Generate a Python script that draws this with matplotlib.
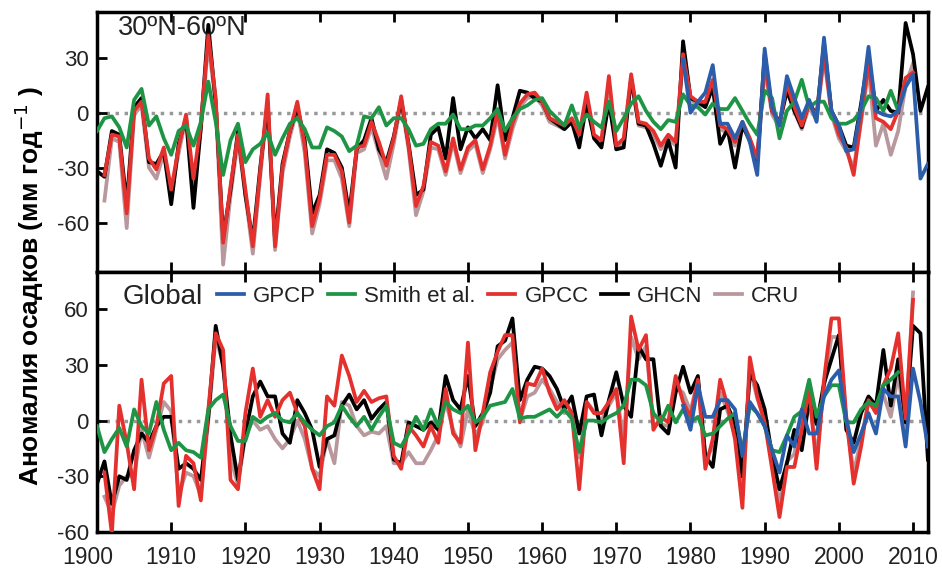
import numpy as np
import matplotlib
matplotlib.use("Agg")
import matplotlib.pyplot as plt

plt.rcParams['font.family'] = ['Liberation Sans', 'DejaVu Sans']
plt.rcParams['axes.unicode_minus'] = False

years = np.arange(1900, 2013)

# 30N-60N panel (mm/yr anomalies), each list starts at the given year
top_ghcn_start = 1900
top_ghcn = [-32, -35, -10, -12, -50, 3, 8, -27, -28, -21,
            -50, -17, -3, -52, -8, 48, 5, -68, -42, -10,
            -45, -70, -30, 5, -70, -28, -10, 3, -15, -55,
            -45, -20, -22, -30, -55, -20, -15, -3, -20, -27,
            -13, 7, -17, -45, -42, -12, -8, -25, 8, -20,
            -8, -14, -9, -15, 15, -15, -3, 12, 11, 8,
            6, -3, -6, -9, -5, -19, 5, -14, -19, 6,
            -20, -19, 19, -6, -7, -17, -29, -15, -30, 39,
            8, 6, 3, 14, -17, -9, -30, -7, -15, -27,
            32, 1, -5, 12, 1, -8, 6, -2, 38, 1,
            -7, -18, -19, 5, 31, 1, 7, 1, 0, 49,
            32, 1, 14]
top_gpcc_start = 1901
top_gpcc = [-34, -12, -13, -55, 1, 6, -25, -31, -19,
            -42, -19, -1, -36, -6, 42, 8, -71, -40, -12,
            -42, -73, -32, 10, -73, -30, -10, 6, -18, -62,
            -47, -23, -23, -32, -60, -19, -18, -5, -16, -29,
            -14, 9, -18, -51, -40, -16, -18, -32, -14, -31,
            -19, -15, -31, -18, 1, -23, -6, 5, 10, 11,
            6, -3, -5, -7, -3, -12, 11, -12, -15, 20,
            -18, -14, 21, -5, -6, -10, -18, -12, -16, 32,
            9, 6, 6, 18, -7, -9, -16, -5, -14, -25,
            27, 1, -6, 16, 3, -7, 5, -2, 32, 1,
            -12, -19, -34, -3, 27, -3, -5, -9, 1, 19,
            22]
top_cru_start = 1901
top_cru = [-48, -14, -16, -63, -1, 4, -30, -36, -22,
           -44, -22, -3, -40, -9, 38, 5, -83, -45, -15,
           -45, -77, -35, 6, -75, -33, -13, 2, -22, -66,
           -50, -26, -26, -36, -62, -22, -20, -8, -22, -36,
           -17, 6, -20, -56, -43, -19, -20, -34, -16, -33,
           -21, -17, -33, -20, -2, -25, -9, 3, 8, 9,
           4, -5, -7, -9, -5, -14, 8, -14, -17, 17,
           -20, -16, 18, -7, -8, -12, -20, -14, -18, 29,
           7, 4, 4, 15, -9, -11, -18, -7, -16, -27,
           24, -1, -8, 13, 1, -9, 3, -4, 30, -1,
           -14, -21, -30, -5, 24, -18, -6, -23, -10, 15,
           27]
top_smith_start = 1900
top_smith = [-10, -3, -2, -8, -19, 7, 13, -7, -2, -14,
             -23, -10, -7, -18, -5, 17, -5, -34, -15, -6,
             -27, -20, -17, -11, -23, -14, -6, -3, -9, -19,
             -19, -8, -10, -13, -21, -18, -2, -3, 3, -7,
             -3, -3, -9, -18, -17, -9, -6, -6, -1, -9,
             -9, -7, -7, -3, 2, -10, -3, 2, 4, 7,
             8, 1, -3, -7, 4, -8, -1, -5, -8, 6,
             -10, -3, 5, 9, 1, -5, -9, -4, -5, 10,
             4, 3, -1, 5, 2, 2, 8, 1, -6, -12,
             12, 8, -14, 1, 6, 18, 3, 6, 6, -3,
             -6, -6, -4, 1, 9, 8, 1, 12, 1]
top_gpcp_start = 1979
top_gpcp = [29, 0, 6, 11, 26, -6, -6, -14, -5, -16,
            -34, 35, 3, -7, 20, 8, -3, 7, -5, 41,
            1, -7, -21, -20, 3, 36, 1, -1, -2, 1,
            14, 21, -36, -28]

# Global panel
bot_ghcn_start = 1900
bot_ghcn = [-34, -22, -45, -30, -32, -16, -7, -12, -3, 2,
            2, -26, -23, -26, -32, 2, 51, 29, -8, -32,
            -7, 13, 21, 13, 13, -7, -12, 11, 4, -5,
            -25, -10, -8, 8, 14, 6, 11, 1, 6, 10,
            -21, -23, -1, -3, -5, -1, -5, 24, 11, 6,
            24, -3, 4, 15, 40, 43, 55, 11, 22, 29,
            28, 24, 17, 6, 13, -7, 13, 14, -8, 11,
            26, 8, 2, 40, 33, 33, -3, -7, 15, 29,
            15, 24, -19, -25, 6, 8, -2, -30, 25, 19,
            6, -19, -37, -23, -5, -16, 11, -2, 20, 33,
            46, -5, -12, 4, 13, 8, 38, 8, 33, -1,
            51, 47, -21]
bot_gpcc_start = 1901
bot_gpcc = [-28, -61, 8, -12, -37, 22, -16, -3, 20,
            24, -46, -19, -23, -43, 6, 47, 38, -32, -37,
            4, 28, 2, 11, 2, 11, 15, 4, -3, -26,
            -37, 13, 8, 35, 24, 10, 16, 10, 12, 13,
            -19, -26, -3, -8, -14, -3, -12, 17, -7, -12,
            42, -16, 4, 26, 37, 46, 46, -1, 20, 19,
            28, 15, 6, 11, 4, -37, 10, 4, 4, 10,
            17, -23, 56, 38, 46, -5, 2, -1, 24, 10,
            2, 22, -26, -10, 22, 8, -10, -47, 34, 13,
            -1, -26, -52, -25, -25, -5, 17, -26, 22, 55,
            55, 2, -34, -14, 11, 4, 19, 28, 47, 1,
            65]
bot_cru_start = 1901
bot_cru = [-41, -50, -35, -30, -30, -5, -20, -5, 10,
           5, -40, -28, -30, -40, 0, 45, 30, -20, -35,
           -8, 0, -5, -3, -10, -15, -10, 0, -10, -26,
           -30, -10, -23, 10, 8, -3, -8, -6, -7, -3,
           -23, -23, -17, -23, -23, -16, -8, 10, -5, -14,
           6, -8, -1, 17, 33, 38, 42, 0, 13, 15,
           22, 17, 10, 4, 5, -20, 10, 5, 0, 8,
           15, -10, 45, 33, 40, -2, -2, -3, 18, 15,
           5, 22, -20, -15, 15, 5, -8, -40, 28, 12,
           0, -22, -45, -22, -18, 3, 14, -20, 18, 45,
           45, 0, -28, -10, 10, 5, 14, 2, 25, -5,
           69]
bot_smith_start = 1900
bot_smith = [-3, -17, -10, -4, -14, 6, -3, -7, 10, -5,
             -16, -12, -16, -17, -20, 6, 11, 14, -3, -11,
             -11, 2, -1, 2, 4, 0, -1, 4, -1, -5,
             -8, -3, -1, 8, 2, -3, 2, -5, 2, 8,
             -12, -14, -7, 2, -5, 6, -3, 10, 6, 4,
             8, -1, 2, 8, 9, 10, 17, 1, 2, 2,
             4, 6, 2, 6, 1, -17, 0, 0, -1, 2,
             4, 8, 22, 22, 19, 4, -1, 8, -1, 6,
             -1, 2, -8, -7, -3, 1, 4, -17, 8, 4,
             -3, -16, -17, -8, 2, 5, 22, 2, 13, 19,
             19, -1, -1, 6, 10, 8, 19, 22, 26]
bot_gpcp_start = 1979
bot_gpcp = [8, -5, 19, 2, 2, 11, 11, 6, -19, 10,
            4, -3, -16, -28, -8, -14, 6, -7, -7, 13,
            22, 27, 1, -17, -7, 4, -7, 17, 13, 13,
            -14, 28, 10, -14]

decade_ticks = list(range(1900, 2011, 10))
decade_labels = [str(y) for y in decade_ticks]

series_names = ['GPCP', 'Smith et al.', 'GPCC', 'GHCN', 'CRU']
series_colors = ['#2c5daa', '#1e9545', '#e5312e', '#000000', '#b8989c']


def full(vals, start):
    # pad onto the 1900-2012 axis
    out = np.full(len(years), np.nan)
    out[start - 1900:start - 1900 + len(vals)] = vals
    return out


top = {'GPCP': full(top_gpcp, top_gpcp_start), 'Smith et al.': full(top_smith, top_smith_start),
       'GPCC': full(top_gpcc, top_gpcc_start), 'GHCN': full(top_ghcn, top_ghcn_start),
       'CRU': full(top_cru, top_cru_start)}
bot = {'GPCP': full(bot_gpcp, bot_gpcp_start), 'Smith et al.': full(bot_smith, bot_smith_start),
       'GPCC': full(bot_gpcc, bot_gpcc_start), 'GHCN': full(bot_ghcn, bot_ghcn_start),
       'CRU': full(bot_cru, bot_cru_start)}

fig, (ax1, ax2) = plt.subplots(2, 1, figsize=(9.42, 5.72), dpi=100, sharex=True)
fig.subplots_adjust(left=0.103, right=0.985, top=0.979, bottom=0.070, hspace=0)

# drawing order: CRU at the back, GPCP on top
zorders = {'CRU': 2, 'GHCN': 3, 'GPCC': 4, 'Smith et al.': 5, 'GPCP': 6}

for ax, data in [(ax1, top), (ax2, bot)]:
    ax.axhline(0, color='#999999', ls=(0, (1, 1.6)), lw=2.5, zorder=1)
    for name, col in zip(series_names, series_colors):
        ax.plot(years, data[name], color=col, lw=2.7, label=name, zorder=zorders[name])
    for s in ax.spines.values():
        s.set_linewidth(2.5)
    ax.tick_params(direction='in', length=7, width=2, labelsize=16,
                   top=True, bottom=True, colors='black', labelcolor='#222222')
    ax.tick_params(axis='y', pad=6)
    ax.set_xlim(1900, 2012)

ax1.set_ylim(-87, 55)
ax1.set_yticks([-60, -30, 0, 30])
ax2.set_ylim(-60, 80)
ax2.set_yticks([-60, -30, 0, 30, 60])

# the first year label sits a little left of its tick in the original,
# so it is written separately
ax2.set_xticks(decade_ticks)
ax2.set_xticklabels([''] + decade_labels[1:])
ax2.tick_params(axis='x', pad=10, labelsize=16.5)
ax2.annotate(decade_labels[0], xy=(decade_ticks[0], 0), xycoords=('data', 'axes fraction'),
             xytext=(-6.5, -10), textcoords='offset points', ha='center', va='top',
             fontsize=16.5, color='#222222', annotation_clip=False)

ax1.text(0.025, 0.988, '30ºN-60ºN', transform=ax1.transAxes, fontsize=19.5,
         va='top', ha='left', color='#222222')
ax2.text(0.031, 0.955, 'Global', transform=ax2.transAxes, fontsize=20,
         va='top', ha='left', color='#222222')

ax2.legend(loc='upper left', bbox_to_anchor=(0.1444, 0.948), ncol=5, frameon=False,
           fontsize=16, handlelength=1.2, handletextpad=0.42, columnspacing=0.56,
           borderpad=0, borderaxespad=0, labelcolor='#222222')

fig.text(0.031, 0.5, 'Аномалия осадков (мм год$^{-1}$ )', rotation=90,
         fontsize=19, fontweight='bold', va='center', ha='center')

fig.savefig('out.png', dpi=100)
